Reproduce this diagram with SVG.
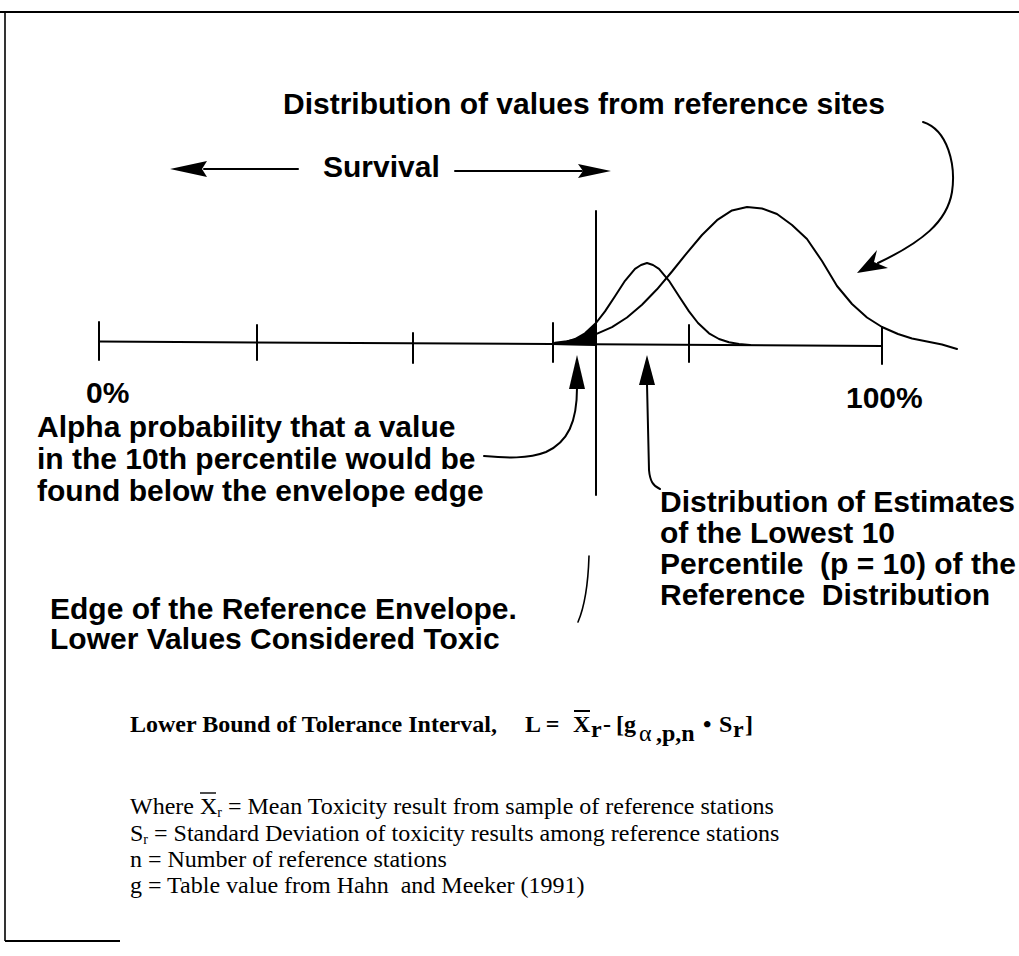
<svg xmlns="http://www.w3.org/2000/svg" width="1019" height="956" viewBox="0 0 1019 956">
<style>
.lbl{font-family:"Liberation Sans",Arial,sans-serif;font-weight:bold;font-size:30px;fill:#000}
.ser{font-family:"Liberation Serif","Times New Roman",serif;font-size:24px;fill:#000}
.serb{font-family:"Liberation Serif","Times New Roman",serif;font-weight:bold;font-size:24px;fill:#000}
.sub{font-size:14px}
.ln{fill:none;stroke:#000;stroke-width:2;stroke-linecap:round;stroke-linejoin:round}
.thin{fill:none;stroke:#000;stroke-width:1.6;stroke-linecap:round;stroke-linejoin:round}
.hd{fill:#000;stroke:none}
</style>
<rect width="1019" height="956" fill="#fff"/>
<g id="frame">
<line x1="0" y1="12" x2="1019" y2="12" stroke="#000" stroke-width="2"/>
<line x1="5" y1="12" x2="5" y2="941" stroke="#000" stroke-width="1.6"/>
<line x1="5" y1="941" x2="120" y2="941" stroke="#000" stroke-width="2"/>
</g>
<g id="axis">
<line class="ln" x1="99" y1="341.5" x2="882" y2="346"/>
<line class="ln" x1="99" y1="322" x2="99" y2="360"/>
<line class="ln" x1="257" y1="325" x2="257" y2="360"/>
<line class="ln" x1="413" y1="333" x2="413" y2="363"/>
<line class="ln" x1="553" y1="323" x2="553" y2="362"/>
<line class="ln" x1="689" y1="325" x2="689" y2="362"/>
<line class="ln" x1="882" y1="327" x2="882" y2="364"/>
<line class="ln" x1="596" y1="211" x2="596" y2="495"/>
</g>
<g id="curves">
<polygon class="hd" points="553,345 555,343.9 565,342.3 575,339 585,333.3 596,323 596,346"/>
<polyline class="ln" points="555,343.9 565,342.3 575,339 585,333.3 596,323 605,311.4 615,296.2 625,280.8 635,268.8 641,265 647,263 653,265 659,268.8 669,280.8 679,296.2 689,311.4 698,323 709,333.3 719,339 729,342.3 739,343.9 750,345"/>
<polyline class="ln" points="555,342.8 567,341.3 582,338.4 596,334.2 612,327.1 627,317.5 642,304.8 657,289.3 672,271.5 687,252.8 702,235 717,220.2 732,210.4 747,207 762,208.5 777,214 792,225 807,239 822,261 837,286 852,304 867,317.5 882,327 898,334 912,338.5 927,341.5 942,344.5 957,349"/>
</g>
<g id="connectors">
<line class="ln" x1="204" y1="169" x2="298" y2="169"/>
<polygon class="hd" points="170,169 207,161 202,169 207,177"/>
<line class="ln" x1="455" y1="171" x2="582" y2="171"/>
<polygon class="hd" points="611,171 578,164 583,171 578,178"/>
<path class="ln" d="M923,122 C948,130 956,165 952,192 C947,222 922,242 878,263"/>
<polygon class="hd" points="857,273 877,250 874,262 888,268"/>
<polygon class="hd" points="577,355 569,389 585,389"/>
<path class="ln" d="M577,388 C577,422 568,442 546,452 C528,459 506,458 484,456"/>
<polygon class="hd" points="647,355 639,385 655,385"/>
<path class="ln" d="M647,384 L649,470 C650,481 653,486 660,489"/>
<path class="thin" d="M589,556 C588,588 584,608 578,622"/>
</g>
<g id="labels">
<text class="lbl" x="283" y="114" font-size="29.5">Distribution of values from reference sites</text>
<text class="lbl" x="323" y="177">Survival</text>
<text class="lbl" x="86" y="403" font-size="25">0%</text>
<text class="lbl" x="846" y="408" font-size="25">100%</text>
<text class="lbl" x="37" y="437">Alpha probability that a value</text>
<text class="lbl" x="37" y="469">in the 10th percentile would be</text>
<text class="lbl" x="37" y="501">found below the envelope edge</text>
<text class="lbl" x="660" y="512" font-size="29.5">Distribution of Estimates</text>
<text class="lbl" x="660" y="543" font-size="29.5">of the Lowest 10</text>
<text class="lbl" x="660" y="574" font-size="29.5" xml:space="preserve">Percentile  (p = 10) of the</text>
<text class="lbl" x="660" y="605" font-size="29.5" xml:space="preserve">Reference  Distribution</text>
<text class="lbl" x="50" y="619">Edge of the Reference Envelope.</text>
<text class="lbl" x="50" y="649">Lower Values Considered Toxic</text>
</g>
<g id="formula">
<text class="serb" x="130" y="732">Lower Bound of Tolerance Interval,</text>
<text class="serb" x="525" y="732">L =</text>
<text class="serb" x="573" y="732">X</text>
<line x1="574" y1="711" x2="590" y2="711" stroke="#000" stroke-width="2"/>
<text class="serb" x="591" y="737" font-size="16">r</text>
<text class="serb" x="603" y="732">-</text>
<text class="serb" x="616" y="732">[g</text>
<text class="ser" x="639" y="741" font-size="18">α</text>
<text class="serb" x="656" y="741" font-size="18">,p,n</text>
<text class="serb" x="703" y="732">•</text>
<text class="serb" x="719" y="732">S</text>
<text class="serb" x="733" y="737" font-size="16">r</text>
<text class="serb" x="745" y="732">]</text>
</g>
<g id="legend">
<text class="ser" x="130" y="814">Where X<tspan class="sub" dy="3">r</tspan><tspan dy="-3"> = Mean Toxicity result from sample of reference stations</tspan></text>
<line x1="200" y1="793" x2="216" y2="793" stroke="#000" stroke-width="1.4"/>
<text class="ser" x="130" y="841">S<tspan class="sub" dy="3">r</tspan><tspan dy="-3"> = Standard Deviation of toxicity results among reference stations</tspan></text>
<text class="ser" x="130" y="867">n = Number of reference stations</text>
<text class="ser" x="130" y="893" xml:space="preserve">g = Table value from Hahn  and Meeker (1991)</text>
</g>
</svg>
